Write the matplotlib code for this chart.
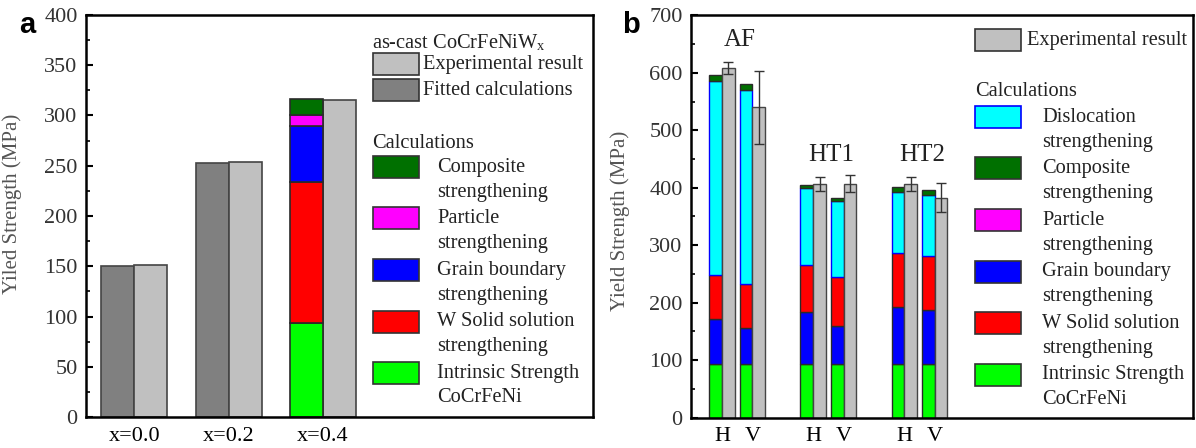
import numpy as np
import matplotlib
matplotlib.use('Agg')
import matplotlib.pyplot as plt
from matplotlib.patches import Rectangle
from matplotlib.ticker import MultipleLocator

plt.rcParams['font.family'] = ['Liberation Serif', 'DejaVu Serif']
plt.rcParams['mathtext.fontset'] = 'stix'

# ---------------- data: panel a ----------------
a_labels = ['x=0.0', 'x=0.2', 'x=0.4']
a_fitted = [150, 253]            # fitted calculations for x=0.0, x=0.2
a_exp = [151, 254, 315]          # experimental result
# x=0.4 breakdown, bottom to top
a_stack_names = ['Intrinsic', 'W solid solution', 'Grain boundary', 'Particle', 'Composite']
a_stack_vals = [94, 140, 56, 10, 16]

# ---------------- data: panel b ----------------
b_ticklabels = ['H', 'V', 'H', 'V', 'H', 'V']
b_groups = ['AF', 'HT1', 'HT2']
b_intrinsic = [94, 94, 94, 94, 94, 94]
b_grain = [77, 61, 89, 66, 99, 94]
b_wsolid = [77, 77, 83, 84, 93, 94]
b_disloc = [338, 338, 134, 133, 107, 106]
b_composite = [11, 11, 4, 5, 8, 9]
b_exp = [609, 540, 407, 407, 406, 383]
b_err = [10, 63, 12, 15, 12, 25]

C_GREEN = '#00ff00'
C_RED = '#ff0000'
C_BLUE = '#0000ff'
C_MAG = '#ff00ff'
C_DKG = '#007000'
C_CYAN = '#00ffff'
C_DARK = '#808080'
C_LIGHT = '#c0c0c0'
EDGE = '#2a2a2a'

W, H = 1196, 448
fig = plt.figure(figsize=(W / 100, H / 100), dpi=100)


def px(x, y):
    return x / W, 1 - y / H


def style_axis(ax, major, minor):
    ax.yaxis.set_major_locator(MultipleLocator(major))
    ax.yaxis.set_minor_locator(MultipleLocator(minor))
    ax.tick_params(axis='y', which='major', direction='in', length=5, width=1.5,
                   labelsize=16, labelcolor='#333333', pad=6)
    ax.tick_params(axis='y', which='minor', direction='in', length=3, width=1.2)
    ax.tick_params(axis='x', length=0, labelsize=16, pad=7)
    for lbl in ax.get_yticklabels() + ax.get_xticklabels():
        lbl.set_family('Liberation Serif')
    for s in ax.spines.values():
        s.set_linewidth(1.8)


def legend_patch(x, y, color, edge='#333333'):
    r = Rectangle(px(x, y + 22), 46 / W, 22 / H, transform=fig.transFigure,
                  facecolor=color, edgecolor=edge, linewidth=1.2)
    fig.add_artist(r)


def legend_text(x, y, s):
    fig.text(*px(x, y), s, fontsize=14.7, va='center', ha='left', color='#222222')


# ================= panel a =================
ax1 = fig.add_axes([86 / W, 31 / H, (593 - 86) / W, 402 / H])
pos_a = np.arange(len(a_labels))
bw = 0.35
ax1.bar(pos_a[:2] - bw / 2, a_fitted, width=bw, color=C_DARK, edgecolor='#444444', linewidth=1.2)
ax1.bar(pos_a + bw / 2, a_exp, width=bw, color=C_LIGHT, edgecolor='#444444', linewidth=1.2)
a_colors = [C_GREEN, C_RED, C_BLUE, C_MAG, C_DKG]
bottom = 0
for v, c in zip(a_stack_vals, a_colors):
    ax1.bar(pos_a[2] - bw / 2, v, width=bw, bottom=bottom, color=c, edgecolor=EDGE, linewidth=1.2)
    bottom += v
ax1.set_xlim(-0.51, 4.86)
ax1.set_ylim(0, 400)
ax1.set_xticks(pos_a)
ax1.set_xticklabels(a_labels)
style_axis(ax1, 50, 25)
ax1.set_ylabel('Yiled Strength (MPa)', fontsize=15, color='#555555')
ax1.yaxis.set_label_coords(-0.127, 0.53)

# legend a (drawn by hand)
fig.text(*px(372, 43), r'as-cast CoCrFeNiW$_\mathregular{x}$', fontsize=14.7, va='center', color='#222222')
legend_patch(373, 53, C_LIGHT)
legend_text(423, 64, 'Experimental result')
legend_patch(373, 79, C_DARK)
legend_text(423, 90, 'Fitted calculations')
legend_text(372, 143, 'Calculations')
a_leg = [(C_DKG, 'Composite\nstrengthening'),
         (C_MAG, 'Particle\nstrengthening'),
         (C_BLUE, 'Grain boundary\nstrengthening'),
         (C_RED, 'W Solid solution\nstrengthening'),
         (C_GREEN, 'Intrinsic Strength\nCoCrFeNi')]
for i, (c, lab) in enumerate(a_leg):
    y0 = 156 + i * 51.5
    legend_patch(373, y0, c)
    l1, l2 = lab.split('\n')
    legend_text(437, y0 + 11, l1)
    legend_text(437, y0 + 36, l2)

fig.text(*px(27, 25), 'a', fontsize=21, fontweight='bold', family='Liberation Sans',
         ha='center', va='center')

# ================= panel b =================
ax2 = fig.add_axes([691 / W, 30.5 / H, (1193 - 691) / W, 402 / H])
pos_b = np.array([0, 1, 3, 4, 6, 7])
wb = 0.42
layers = [(b_intrinsic, C_GREEN, EDGE),
          (b_grain, C_BLUE, EDGE),
          (b_wsolid, C_RED, EDGE),
          (b_disloc, C_CYAN, C_BLUE),
          (b_composite, C_DKG, EDGE)]
bottom = np.zeros(len(pos_b))
for vals, c, e in layers:
    ax2.bar(pos_b - wb / 2, vals, width=wb, bottom=bottom, color=c, edgecolor=e, linewidth=1.0)
    bottom += np.array(vals)
ax2.bar(pos_b + wb / 2, b_exp, width=wb, color=C_LIGHT, edgecolor='#444444', linewidth=1.0,
        yerr=b_err, capsize=3.5, error_kw=dict(ecolor='#333333', elinewidth=1.0, capthick=1.0))
ax2.set_xlim(-1.02, 15.5)
ax2.set_ylim(0, 700)
ax2.set_xticks(pos_b)
ax2.set_xticklabels(b_ticklabels)
style_axis(ax2, 100, 50)
ax2.set_ylabel('Yield Strength (MPa)', fontsize=15, color='#555555')
ax2.yaxis.set_label_coords(-0.1225, 0.49)

group_y = [657, 457, 457]
for g, x0, y0 in zip(b_groups, pos_b[::2], group_y):
    ax2.text(x0 + 0.6, y0, g, fontsize=18, ha='center', va='center', color='#222222')

# legend b
legend_patch(975, 29, C_LIGHT)
legend_text(1027, 40, 'Experimental result')
legend_text(975, 92, 'Calculations')
b_leg = [(C_CYAN, 'Dislocation\nstrengthening', C_BLUE),
         (C_DKG, 'Composite\nstrengthening', '#333333'),
         (C_MAG, 'Particle\nstrengthening', '#333333'),
         (C_BLUE, 'Grain boundary\nstrengthening', '#333333'),
         (C_RED, 'W Solid solution\nstrengthening', '#333333'),
         (C_GREEN, 'Intrinsic Strength\nCoCrFeNi', '#333333')]
for i, (c, lab, e) in enumerate(b_leg):
    y0 = 106 + i * 51.5
    legend_patch(975, y0, c, e)
    l1, l2 = lab.split('\n')
    legend_text(1042, y0 + 11, l1)
    legend_text(1042, y0 + 36, l2)

fig.text(*px(631, 25), 'b', fontsize=21, fontweight='bold', family='Liberation Sans',
         ha='center', va='center')

fig.savefig('out.png', dpi=100)
